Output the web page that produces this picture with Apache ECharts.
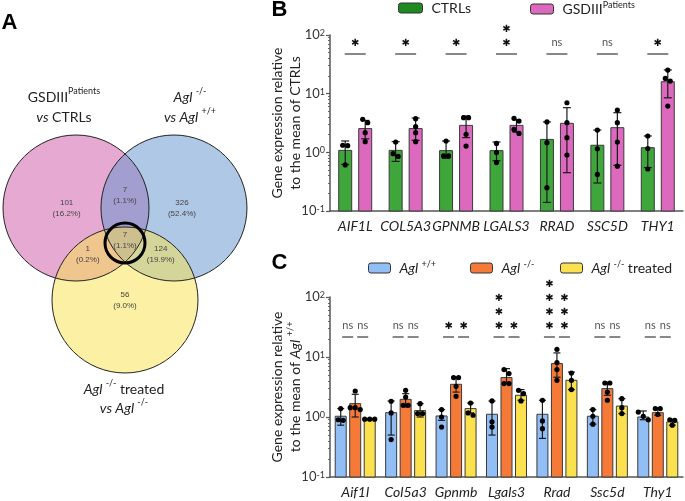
<!DOCTYPE html>
<html><head><meta charset="utf-8">
<script src="https://cdn.jsdelivr.net/npm/echarts@6/dist/echarts.min.js"></script>
<style>html,body{margin:0;padding:0;background:#fff}#c{width:685px;height:501px}</style>
</head><body><div id="c"></div>
<script>
// ================= DATA =================
// Panel A – Venn diagram region counts
const vennRegionCounts = [101, 7, 326, 7, 1, 124, 56];
const vennRegionPct = ['16.2%', '1.1%', '52.4%', '1.1%', '0.2%', '19.9%', '9.0%'];

// Panel B
const genesB = ['AIF1L', 'COL5A3', 'GPNMB', 'LGALS3', 'RRAD', 'SSC5D', 'THY1'];
const ctrlMean = [1.08, 1.08, 1.07, 1.07, 1.66, 1.32, 1.2];
const ctrlErrHi = [1.56, 1.52, 1.56, 1.5, 3.3, 2.4, 1.9];
const ctrlErrLo = [0.62, 0.7, 0.79, 0.72, 0.14, 0.3, 0.55];
const ctrlDots = [[1.3, 1.32, 0.61], [1.5, 0.95, 0.85], [1.56, 0.87, 0.87], [1.42, 0.99, 0.67], [3.3, 1.46, 0.25], [2.4, 1.15, 0.42], [1.9, 1.16, 0.52]];
const patMean = [2.54, 2.54, 2.88, 2.88, 3.12, 2.63, 16.0];
const patErrHi = [3.5, 3.84, 4.16, 3.6, 5.77, 4.74, 25.4];
const patErrLo = [1.7, 1.6, 1.78, 2.2, 0.45, 0.6, 8.5];
const patDots = [[3.2, 3.65, 2.16, 1.52], [3.75, 2.74, 2.16, 1.52], [3.9, 3.9, 2.03, 1.28], [3.41, 3.8, 2.46, 2.1], [7.0, 3.2, 1.78, 0.9], [5.26, 3.2, 1.5, 0.58], [25.2, 18.2, 16.4, 6.15]];
const sigB = ['*', '*', '*', '**', 'ns', 'ns', '*'];

// Panel C
const genesC = ['Aif1l', 'Col5a3', 'Gpnmb', 'Lgals3', 'Rrad', 'Ssc5d', 'Thy1'];
const wtMean = [1.03, 1.18, 1.04, 1.11, 1.11, 1.03, 1.0];
const wtErrHi = [1.38, 1.85, 1.33, 1.85, 1.9, 1.33, 1.26];
const wtErrLo = [0.73, 0.5, 0.88, 0.5, 0.44, 0.76, 0.9];
const wtDots = [[1.38, 0.9, 0.88], [1.83, 1.17, 0.42], [1.33, 1.0, 0.68], [1.85, 0.83, 0.68], [1.9, 0.86, 0.64], [1.33, 1.03, 0.76], [1.21, 1.03, 0.9]];
const koMean = [1.67, 1.97, 3.51, 4.54, 7.76, 2.97, 1.18];
const koErrHi = [2.39, 2.45, 4.6, 6.4, 11.7, 3.8, 1.43];
const koErrLo = [1.0, 1.47, 2.6, 3.6, 4.6, 2.3, 1.07];
const koDots = [[2.71, 1.43, 1.43, 1.33], [2.78, 2.15, 1.57, 1.57], [4.54, 4.54, 3.25, 2.21], [6.17, 5.29, 3.6, 3.6], [13.4, 8.06, 6.17, 4.09], [3.69, 3.69, 2.6, 1.9], [1.38, 1.38, 1.1]];
const trMean = [0.92, 1.28, 1.38, 2.3, 4.09, 1.52, 0.83];
const trErrHi = [0.94, 1.67, 1.71, 2.86, 5.6, 2.02, 0.92];
const trErrLo = [0.9, 1.0, 1.17, 1.9, 2.86, 1.14, 0.73];
const trDots = [[0.92, 0.92, 0.92], [1.67, 1.14, 1.14], [1.71, 1.17, 1.07], [2.78, 2.45, 1.85], [5.4, 4.09, 2.86], [2.02, 1.43, 1.14], [0.9, 0.88, 0.73]];
const sigCLeft = ['ns', 'ns', '*', '***', '****', 'ns', 'ns'];
const sigCRight = ['ns', 'ns', '*', '*', '***', 'ns', 'ns'];

// ================= LAYOUT / STYLE =================
const FONT = 'Lato';
const TXT = '#222';
// Venn circles in radius units (layout)
const vennCircles = [[-0.671, 0, 1], [0.671, 0, 1], [0, -1.26, 1]];
const vennFill = ['rgba(205,85,165,0.5)', 'rgba(95,145,205,0.5)', 'rgba(249,225,75,0.5)'];
const vennLabelPos = [[-0.8, 0], [0, 0.17], [0.78, 0], [0, -0.44], [-0.51, -0.64], [0.49, -0.64], [0, -1.26]];
const vennHighlight = [0, -0.48, 0.274];

const chart = echarts.init(document.getElementById('c'), null, { renderer: 'canvas' });

function barSeries(name, ax, means, color, off, w) {
  return {
    type: 'custom', name, xAxisIndex: ax, yAxisIndex: ax, z: 2,
    itemStyle: { color, borderColor: '#333', borderWidth: 1 },
    data: means.map((m, i) => [i, m]),
    renderItem(p, api) {
      const t = api.coord([api.value(0), api.value(1)]);
      const b = api.coord([api.value(0), 0.1]);
      return { type: 'rect', shape: { x: t[0] + off - w / 2, y: t[1], width: w, height: b[1] - t[1] },
        style: { fill: color, stroke: '#3a3a3a', lineWidth: 1 } };
    }
  };
}
function errSeries(ax, lo, hi, off, cap) {
  return {
    type: 'custom', xAxisIndex: ax, yAxisIndex: ax, z: 3, silent: true,
    data: lo.map((l, i) => [i, l, hi[i]]),
    renderItem(p, api) {
      const a = api.coord([api.value(0), api.value(1)]);
      const b = api.coord([api.value(0), api.value(2)]);
      const x = a[0] + off;
      const st = { stroke: '#1a1a1a', lineWidth: 1.2 };
      return { type: 'group', children: [
        { type: 'line', shape: { x1: x, y1: a[1], x2: x, y2: b[1] }, style: st },
        { type: 'line', shape: { x1: x - cap, y1: a[1], x2: x + cap, y2: a[1] }, style: st },
        { type: 'line', shape: { x1: x - cap, y1: b[1], x2: x + cap, y2: b[1] }, style: st }
      ] };
    }
  };
}
function dotSeries(ax, dots, off) {
  return {
    type: 'custom', xAxisIndex: ax, yAxisIndex: ax, z: 4, silent: true,
    dimensions: ['x', 'a', 'b', 'c', 'd'],
    data: dots.map((d, i) => [i].concat(d, ['-', '-', '-', '-']).slice(0, 5)),
    renderItem(p, api) {
      const cat = api.value(0);
      const pts = [];
      for (let k = 1; k <= 4; k++) {
        const v = api.value(k);
        if (!isNaN(v)) pts.push(api.coord([cat, v]));
      }
      pts.sort((u, v) => u[1] - v[1]);
      const children = [];
      let i = 0;
      while (i < pts.length) {
        let j = i;
        while (j + 1 < pts.length && pts[j + 1][1] - pts[j][1] < 4.5) j++;
        const n = j - i + 1;
        for (let k = i; k <= j; k++) {
          const dx = (k - i - (n - 1) / 2) * 5;
          children.push({ type: 'circle', shape: { cx: pts[k][0] + off + dx, cy: pts[k][1], r: 2.6 }, style: { fill: '#000' } });
        }
        i = j + 1;
      }
      return { type: 'group', children };
    }
  };
}
function sigSeries(ax, labels, off, halfW, lineDy) {
  return {
    type: 'custom', xAxisIndex: ax, yAxisIndex: ax, z: 5, silent: true,
    data: labels.map((l, i) => [i, 1]),
    renderItem(p, api) {
      const c = api.coord([api.value(0), 1]);
      const x = c[0] + off;
      const y = p.coordSys.y + lineDy;
      const lab = labels[p.dataIndex];
      const ns = lab === 'ns';
      const txt = ns ? 'ns' : lab.split('').map(() => '✱').join('\n');
      return { type: 'group', children: [
        { type: 'line', shape: { x1: x - halfW, y1: y, x2: x + halfW, y2: y }, style: { stroke: '#6a6a6a', lineWidth: 1.6 } },
        { type: 'text', style: { text: txt, x, y: ns ? y - 5 : y - 4, align: 'center', verticalAlign: 'bottom',
          fontSize: ns ? 11 : 10, lineHeight: 14, fill: ns ? '#555' : '#111', fontFamily: ns ? FONT : 'DejaVu Sans' } }
      ] };
    }
  };
}

const supRich = {
  b: { fontSize: 13, fontFamily: FONT, color: '#333' },
  s: { fontSize: 9, fontFamily: FONT, color: '#333', verticalAlign: 'top', lineHeight: 10 }
};
function yAxisLog(grid, name, rich) {
  return {
    type: 'log', logBase: 10, min: 0.1, max: 100, gridIndex: grid,
    name, nameLocation: 'middle', nameGap: 26, nameRotate: 90, nameMoveOverlap: false,
    nameTextStyle: { fontSize: 14, fontFamily: FONT, color: TXT, lineHeight: 18, rich },
    axisLine: { show: true, lineStyle: { color: '#555', width: 1.5 } },
    axisTick: { show: true, length: 4, lineStyle: { color: '#555', width: 1.2 } },
    minorTick: { show: true, splitNumber: 9, length: 2, lineStyle: { color: '#666', width: 1 } },
    splitLine: { show: false }, minorSplitLine: { show: false },
    axisLabel: { margin: 5, formatter: v => '{b|10}{s|' + Math.round(Math.log10(v)) + '}', rich: supRich }
  };
}
function xAxisCat(grid, data) {
  return {
    type: 'category', gridIndex: grid, data,
    axisLine: { lineStyle: { color: '#555', width: 1.5 } },
    axisTick: { alignWithLabel: true, length: 4, lineStyle: { color: '#555', width: 1.2 } },
    axisLabel: { fontStyle: 'italic', fontSize: 14, fontFamily: FONT, color: TXT, margin: 8, interval: 0 }
  };
}

const legendRich = {
  n: { fontSize: 14, fontFamily: FONT, color: TXT, lineHeight: 16 },
  i: { fontSize: 14, fontFamily: FONT, color: TXT, fontStyle: 'italic', lineHeight: 16 },
  s: { fontSize: 9, fontFamily: FONT, color: TXT, verticalAlign: 'top', lineHeight: 10 }
};
const legendFmt = {
  'CTRLs': '{n|CTRLs}',
  'GSDIII Patients': '{n|GSDIII}{s|Patients}',
  'Agl +/+': '{i|Agl }{s|+/+}',
  'Agl -/-': '{i|Agl }{s|-/-}',
  'Agl -/- treated': '{i|Agl }{s|-/-}{n| treated}'
};
function legendOne(name, left, top, w, iconColor) {
  return {
    data: [{ name, itemStyle: iconColor ? { color: iconColor } : undefined }], left, top, itemWidth: w, itemHeight: 10,
    padding: 0,
    itemStyle: { borderColor: '#333', borderWidth: 1 },
    formatter: n => legendFmt[n], textStyle: { rich: legendRich, padding: [0, 0, 0, 4] }, selectedMode: false
  };
}

const setLabelRich = {
  n: { fontSize: 14, fontFamily: FONT, fill: TXT, lineHeight: 20 },
  i: { fontSize: 14, fontFamily: FONT, fill: TXT, fontStyle: 'italic', lineHeight: 20 },
  s: { fontSize: 9, fontFamily: FONT, fill: TXT, verticalAlign: 'top', lineHeight: 13 }
};
function gText(x, y, text) {
  return { type: 'text', x, y, style: { text, align: 'center', verticalAlign: 'middle', rich: setLabelRich, fill: TXT, font: '14px Lato' } };
}
function letter(t, x, y) {
  return { type: 'text', x, y, style: { text: t, align: 'center', verticalAlign: 'middle', font: 'bold 22px "Liberation Sans"', fill: '#000' } };
}

const option = {
  backgroundColor: '#fff',
  animation: false,
  grid: [
    { left: 0.9, top: 120.4, width: 248.2, height: 262.8 },
    { left: 330, top: 35, width: 353, height: 176 },
    { left: 330, top: 297, width: 353, height: 180 }
  ],
  xAxis: [
    { type: 'value', gridIndex: 0, min: -1.7, max: 1.7, show: false },
    xAxisCat(1, genesB),
    xAxisCat(2, genesC)
  ],
  yAxis: [
    { type: 'value', gridIndex: 0, min: -2.4, max: 1.2, show: false },
    yAxisLog(1, 'Gene expression relative\nto the mean of CTRLs', {}),
    yAxisLog(2, 'Gene expression relative\nto the mean of {i|Agl} {s|+/+}', {
      i: { fontSize: 14, fontFamily: FONT, color: TXT, fontStyle: 'italic', lineHeight: 18 },
      s: { fontSize: 9, fontFamily: FONT, color: TXT, verticalAlign: 'top', lineHeight: 12 }
    })
  ],
  legend: [
    legendOne('CTRLs', 398, 1, 24, '#1f8a1f'),
    legendOne('GSDIII Patients', 530, 1, 23),
    legendOne('Agl +/+', 368, 260, 22),
    legendOne('Agl -/-', 470, 260, 22),
    legendOne('Agl -/- treated', 560, 260, 22)
  ],
  graphic: [
    letter('A', 9.5, 22.5),
    letter('B', 279.5, 9.5),
    letter('C', 279.5, 262.5),
    gText(64, 97, '{n|GSDIII}{s|Patients}'),
    gText(64, 117, '{i|vs}{n| CTRLs}'),
    gText(190, 97, '{i|Agl }{s|-/-}'),
    gText(190, 117, '{i|vs Agl }{s|+/+}'),
    gText(124, 389, '{i|Agl }{s|-/-}{n| treated}'),
    gText(124, 408, '{i|vs Agl }{s|-/-}')
  ],
  series: [
    {
      type: 'custom', xAxisIndex: 0, yAxisIndex: 0, silent: true, z: 1,
      data: vennCircles,
      renderItem(p, api) {
        const c = api.coord([api.value(0), api.value(1)]);
        const r = api.size([api.value(2), 0])[0];
        return { type: 'circle', shape: { cx: c[0], cy: c[1], r }, style: { fill: vennFill[p.dataIndex] } };
      }
    },
    {
      type: 'custom', xAxisIndex: 0, yAxisIndex: 0, silent: true, z: 2,
      data: vennCircles.concat([vennHighlight]),
      renderItem(p, api) {
        const c = api.coord([api.value(0), api.value(1)]);
        const r = api.size([api.value(2), 0])[0];
        const hl = p.dataIndex === 3;
        return { type: 'circle', shape: { cx: c[0], cy: c[1], r }, style: { fill: null, stroke: hl ? '#000' : '#222', lineWidth: hl ? 3 : 1 } };
      }
    },
    {
      type: 'custom', xAxisIndex: 0, yAxisIndex: 0, silent: true, z: 3,
      data: vennLabelPos,
      renderItem(p, api) {
        const c = api.coord([api.value(0), api.value(1)]);
        const i = p.dataIndex;
        return { type: 'text', style: { text: vennRegionCounts[i] + '\n(' + vennRegionPct[i] + ')', x: c[0], y: c[1],
          align: 'center', verticalAlign: 'middle', fontSize: 8, lineHeight: 11, fontFamily: 'Liberation Sans', fill: '#444' } };
      }
    },
    barSeries('CTRLs', 1, ctrlMean, '#3fa63c', -10, 13),
    barSeries('GSDIII Patients', 1, patMean, '#dc69be', 10, 13),
    errSeries(1, ctrlErrLo, ctrlErrHi, -10, 4),
    errSeries(1, patErrLo, patErrHi, 10, 4),
    dotSeries(1, ctrlDots, -10),
    dotSeries(1, patDots, 10),
    sigSeries(1, sigB, 0, 10.5, 19),
    barSeries('Agl +/+', 2, wtMean, '#91bef5', -14.5, 11),
    barSeries('Agl -/-', 2, koMean, '#f57a38', 0, 11),
    barSeries('Agl -/- treated', 2, trMean, '#fce14e', 14.5, 11),
    errSeries(2, wtErrLo, wtErrHi, -14.5, 3.5),
    errSeries(2, koErrLo, koErrHi, 0, 3.5),
    errSeries(2, trErrLo, trErrHi, 14.5, 3.5),
    dotSeries(2, wtDots, -14.5),
    dotSeries(2, koDots, 0),
    dotSeries(2, trDots, 14.5),
    sigSeries(2, sigCLeft, -7.5, 5.5, 40),
    sigSeries(2, sigCRight, 7.5, 5.5, 40)
  ]
};
chart.setOption(option);
</script>
</body></html>
